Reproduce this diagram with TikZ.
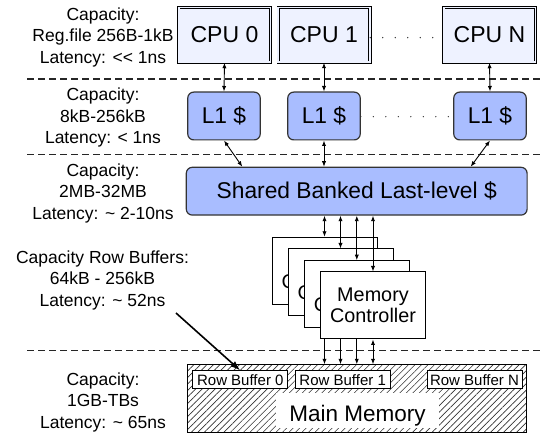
\documentclass[tikz,border=0pt]{standalone}
\usepackage{fontspec}
\setmainfont{Liberation Sans}
\usetikzlibrary{arrows.meta,patterns.meta,calc}
\definecolor{cpufill}{HTML}{EEF2FF}
\definecolor{cachefill}{HTML}{A9BDFF}
\definecolor{edgegray}{HTML}{333333}
\begin{document}
\begin{tikzpicture}[x=1pt,y=-1pt,
  lbl/.style={align=center,inner sep=0pt,font=\fontsize{17.5}{21.5}\selectfont},
  cpubox/.style={draw=black,double=cpufill,double distance=1.6pt,line width=0.9pt,fill=cpufill,
    minimum width=91.6pt,minimum height=54.6pt,inner sep=0pt,font=\fontsize{23}{26}\selectfont},
  cachebox/.style={draw=edgegray,fill=cachefill,line width=1.2pt,rounded corners=6pt,
    minimum width=72.5pt,minimum height=47.8pt,inner sep=0pt,font=\fontsize{22.8}{26}\selectfont},
  mcbox/.style={draw=black,fill=white,line width=1pt,minimum width=105pt,minimum height=67pt,
    inner sep=0pt,align=center,font=\fontsize{19.8}{21.5}\selectfont},
  rbbox/.style={draw=black,fill=white,line width=1pt,minimum width=95pt,minimum height=18pt,
    inner sep=0pt,font=\fontsize{15}{18}\selectfont},
  memblock/.style={draw=black,line width=1.2pt,minimum width=338.8pt,minimum height=67.8pt,
    pattern={Lines[angle=45,distance=4.6pt,line width=0.6pt]},pattern color=black!80},
  link/.style={{Latex[length=5.5pt,width=4.2pt]}-{Latex[length=5.5pt,width=4.2pt]},line width=0.9pt},
  bigarrow/.style={-{Latex[length=10pt,width=7pt]},line width=1.6pt},
  sepline/.style={line width=1.1pt,dash pattern=on 7pt off 4pt,black!85},
  dotline/.style={line width=1.4pt,dash pattern=on 0pt off 12.5pt,line cap=round,black!80}
]
\useasboundingbox (0,0) rectangle (542,435);

% separators
\draw[sepline] (27,79) -- (542,79);
\draw[sepline] (27,154.3) -- (542,154.3);
\draw[sepline] (27,350.7) -- (542,350.7);

% labels
\node[lbl] (lab1) at (103,37.2) {Capacity:\\Reg.file 256B-1kB\\Latency: <{}< 1ns};
\node[lbl] (lab2) at (103,117.7) {Capacity:\\8kB-256kB\\Latency: < 1ns};
\node[lbl] (lab3) at (103,193.2) {Capacity:\\2MB-32MB\\Latency: \textasciitilde{} 2-10ns};
\node[lbl] (lab4) at (102.5,280.4) {Capacity Row Buffers:\\64kB - 256kB\\Latency: \textasciitilde{} 52ns};
\node[lbl] (lab5) at (103,402.2) {Capacity:\\1GB-TBs\\Latency: \textasciitilde{} 65ns};

% CPUs
\node[cpubox] (cpu0) at (224.5,35) {CPU 0};
\node[cpubox] (cpu1) at (324,35) {CPU 1};
\node[cpubox] (cpun) at (489.5,35) {CPU N};

% L1 caches
\node[cachebox] (l10) at (224,116) {L1 \$};
\node[cachebox] (l11) at (324,116) {L1 \$};
\node[cachebox] (l1n) at (490,116) {L1 \$};

% LLC
\node[cachebox,minimum width=340.8pt] (llc) at (356.7,191.2) {Shared Banked Last-level \$};

% dotted continuations
\draw[dotline] ([yshift=-2.7pt]cpu1.east) -- ([yshift=-2.7pt]cpun.west);
\draw[dotline] ([yshift=-0.7pt]l11.east) -- ([yshift=-0.7pt]l1n.west);

% CPU - L1 links
\draw[link] (cpu0.south) -- (l10.north);
\draw[link] (cpu1.south) -- (l11.north);
\draw[link] (cpun.south) -- (l1n.north);

% L1 - LLC links
\coordinate (llcA) at (242.3,166.7);
\coordinate (llcN) at (470.7,166.7);
\draw[link] (l10.south) -- (llcA);
\draw[link] (l11.south) -- (l11.south |- llc.north);
\draw[link] (l1n.south) -- (llcN);

% main memory
\node[memblock] (mm) at (357,398.5) {};
\node[rbbox] (rb0) at (240.3,380) {Row Buffer 0};
\node[rbbox] (rb1) at (342.7,380) {Row Buffer 1};
\node[rbbox] (rbn) at (474.5,380) {Row Buffer N};
\node[fill=white,inner xsep=13pt,inner ysep=3pt,text height=25.7pt,text depth=3.3pt,
  font=\fontsize{22.5}{26}\selectfont] (mmlabel) at (357.5,410.5) {Main Memory};

% memory controllers (stacked)
\node[mcbox] (mc1) at (324.5,270.8) {Memory\\Controller};
\draw[link] (mc1.north |- llc.south) -- (mc1.north);
\draw[link] (mc1.south) -- (mc1.south |- mm.north);
\node[mcbox] (mc2) at (340.5,282.5) {Memory\\Controller};
\draw[link] (mc2.north |- llc.south) -- (mc2.north);
\draw[link] (mc2.south) -- (mc2.south |- mm.north);
\node[mcbox] (mc3) at (356.8,294.2) {Memory\\Controller};
\draw[link] (mc3.north |- llc.south) -- (mc3.north);
\draw[link] (mc3.south) -- (mc3.south |- mm.north);
\node[mcbox] (mc4) at (373,305.5) {Memory\\Controller};
\draw[link] (mc4.north |- llc.south) -- (mc4.north);
\draw[link] (mc4.south) -- (mc4.south |- mm.north);

% pointer from row-buffer label
\coordinate (ptr) at (176,313);
\draw[bigarrow] (ptr) -- (rb0.north);
\end{tikzpicture}
\end{document}
